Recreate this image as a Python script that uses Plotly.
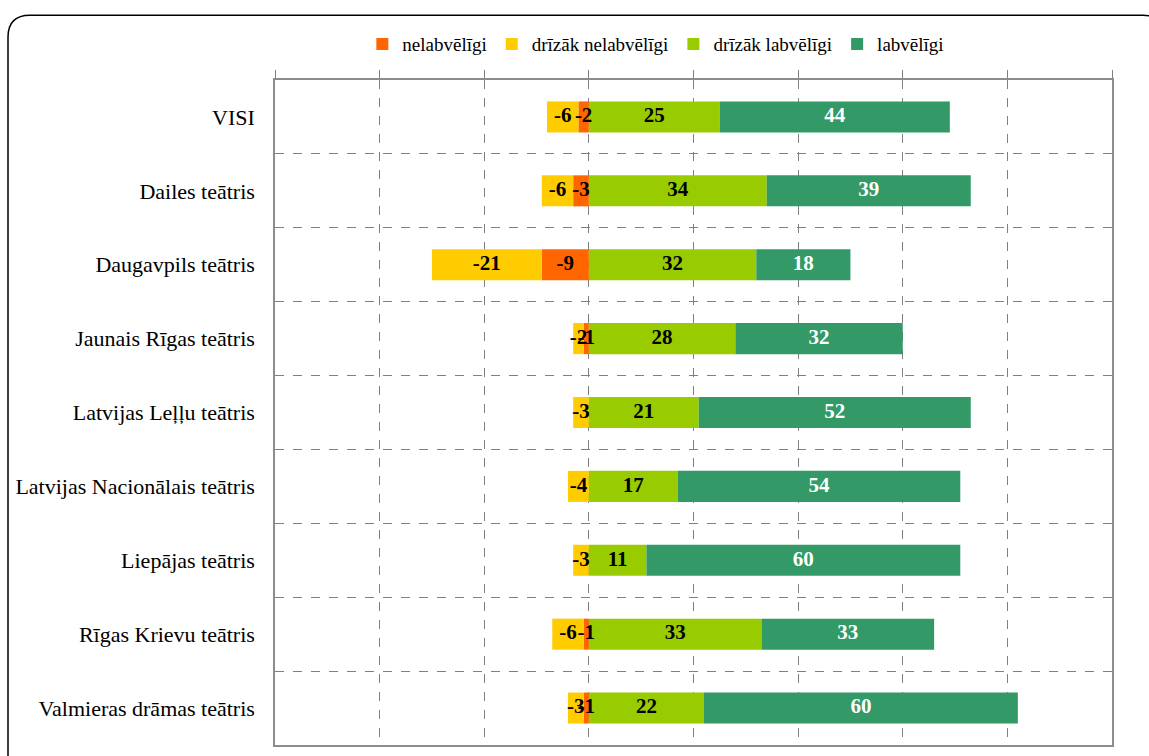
import plotly.graph_objects as go

categories = [
    "VISI",
    "Dailes teātris",
    "Daugavpils teātris",
    "Jaunais Rīgas teātris",
    "Latvijas Leļļu teātris",
    "Latvijas Nacionālais teātris",
    "Liepājas teātris",
    "Rīgas Krievu teātris",
    "Valmieras drāmas teātris",
]
nelabveligi = [-2, -3, -9, -1, 0, 0, 0, -1, -1]
drizak_nelabveligi = [-6, -6, -21, -2, -3, -4, -3, -6, -3]
drizak_labveligi = [25, 34, 32, 28, 21, 17, 11, 33, 22]
labveligi = [44, 39, 18, 32, 52, 54, 60, 33, 60]

series = [
    ("nelabvēlīgi", nelabveligi, "#FF6600", "black"),
    ("drīzāk nelabvēlīgi", drizak_nelabveligi, "#FFCC00", "black"),
    ("drīzāk labvēlīgi", drizak_labveligi, "#99CC00", "black"),
    ("labvēlīgi", labveligi, "#339966", "white"),
]

SERIF = "Liberation Serif, Times New Roman, serif"

fig = go.Figure()
# bars (stacked from zero outward in trace order)
for name, vals, color, tcolor in series:
    fig.add_trace(go.Bar(
        name=name,
        y=categories,
        x=vals,
        orientation="h",
        marker=dict(color=color, line=dict(width=0)),
        textposition="none",
        hoverinfo="skip",
    ))

# value labels centred in each segment, drawn on top of all bars
pos_base = [0] * len(categories)
neg_base = [0] * len(categories)
for name, vals, color, tcolor in series:
    mids = []
    for i, v in enumerate(vals):
        if v >= 0:
            mids.append(pos_base[i] + v / 2)
            pos_base[i] += v
        else:
            mids.append(neg_base[i] + v / 2)
            neg_base[i] += v
    fig.add_trace(go.Scatter(
        x=mids,
        y=categories,
        mode="text",
        text=[str(v) if v != 0 else "" for v in vals],
        textposition="middle center",
        textfont=dict(family=SERIF, size=21, color=tcolor, weight="bold"),
        showlegend=False,
        hoverinfo="skip",
        cliponaxis=False,
    ))

# rounded outer border (chart area frame)
px_w, px_h = 837.0, 667.0
x0 = (8 - 275) / px_w
x1 = (1165 - 275) / px_w
y1 = 1 + (80 - 15) / px_h
y0 = -(775 - 747) / px_h
rx, ry = 22 / px_w, 22 / px_h
path = (f"M {x0},{y0} L {x0},{y1-ry} Q {x0},{y1} {x0+rx},{y1} "
        f"L {x1-rx},{y1} Q {x1},{y1} {x1},{y1-ry} L {x1},{y0}")

fig.update_layout(
    width=1149,
    height=756,
    margin=dict(l=275, r=37, t=80, b=9),
    paper_bgcolor="white",
    plot_bgcolor="white",
    barmode="relative",
    bargap=0.58,
    showlegend=True,
    legend=dict(
        orientation="h",
        x=0.455, xanchor="center",
        y=1 + (80 - 44) / px_h, yanchor="middle",
        font=dict(family=SERIF, size=19, color="black"),
        itemwidth=30,
        traceorder="normal",
        bgcolor="rgba(0,0,0,0)",
    ),
    xaxis=dict(
        range=[-60, 100],
        dtick=20,
        tick0=0,
        side="top",
        showticklabels=False,
        ticks="outside",
        ticklen=8,
        tickcolor="#808080",
        showgrid=True,
        gridcolor="#808080",
        griddash="dash",
        gridwidth=1,
        zeroline=False,
        showline=True,
        linecolor="#8c8c8c",
        linewidth=1.5,
        mirror=True,
        fixedrange=True,
    ),
    yaxis=dict(
        type="category",
        categoryorder="array",
        categoryarray=categories,
        autorange="reversed",
        tickson="boundaries",
        ticks="",
        showgrid=True,
        gridcolor="#808080",
        griddash="dash",
        gridwidth=1,
        showline=True,
        linecolor="#8c8c8c",
        linewidth=1.5,
        mirror=True,
        ticklabelstandoff=14,
        tickfont=dict(family=SERIF, size=22, color="black"),
        fixedrange=True,
    ),
    yaxis2=dict(
        overlaying="y",
        anchor="free",
        position=(0 - (-60)) / 160,
        range=[8.5, -0.5],
        tickmode="array",
        tickvals=[i - 0.5 for i in range(len(categories) + 1)],
        ticks="outside",
        ticklen=6,
        tickcolor="#404040",
        showticklabels=False,
        showgrid=False,
        zeroline=False,
        showline=True,
        linecolor="#707070",
        linewidth=2,
        fixedrange=True,
    ),
    shapes=[dict(
        type="path", xref="paper", yref="paper", path=path,
        line=dict(color="black", width=1.5), layer="below",
    )],
)

fig.write_html("out.html", config={"displayModeBar": False},
               post_script="document.body.style.margin='0';")
